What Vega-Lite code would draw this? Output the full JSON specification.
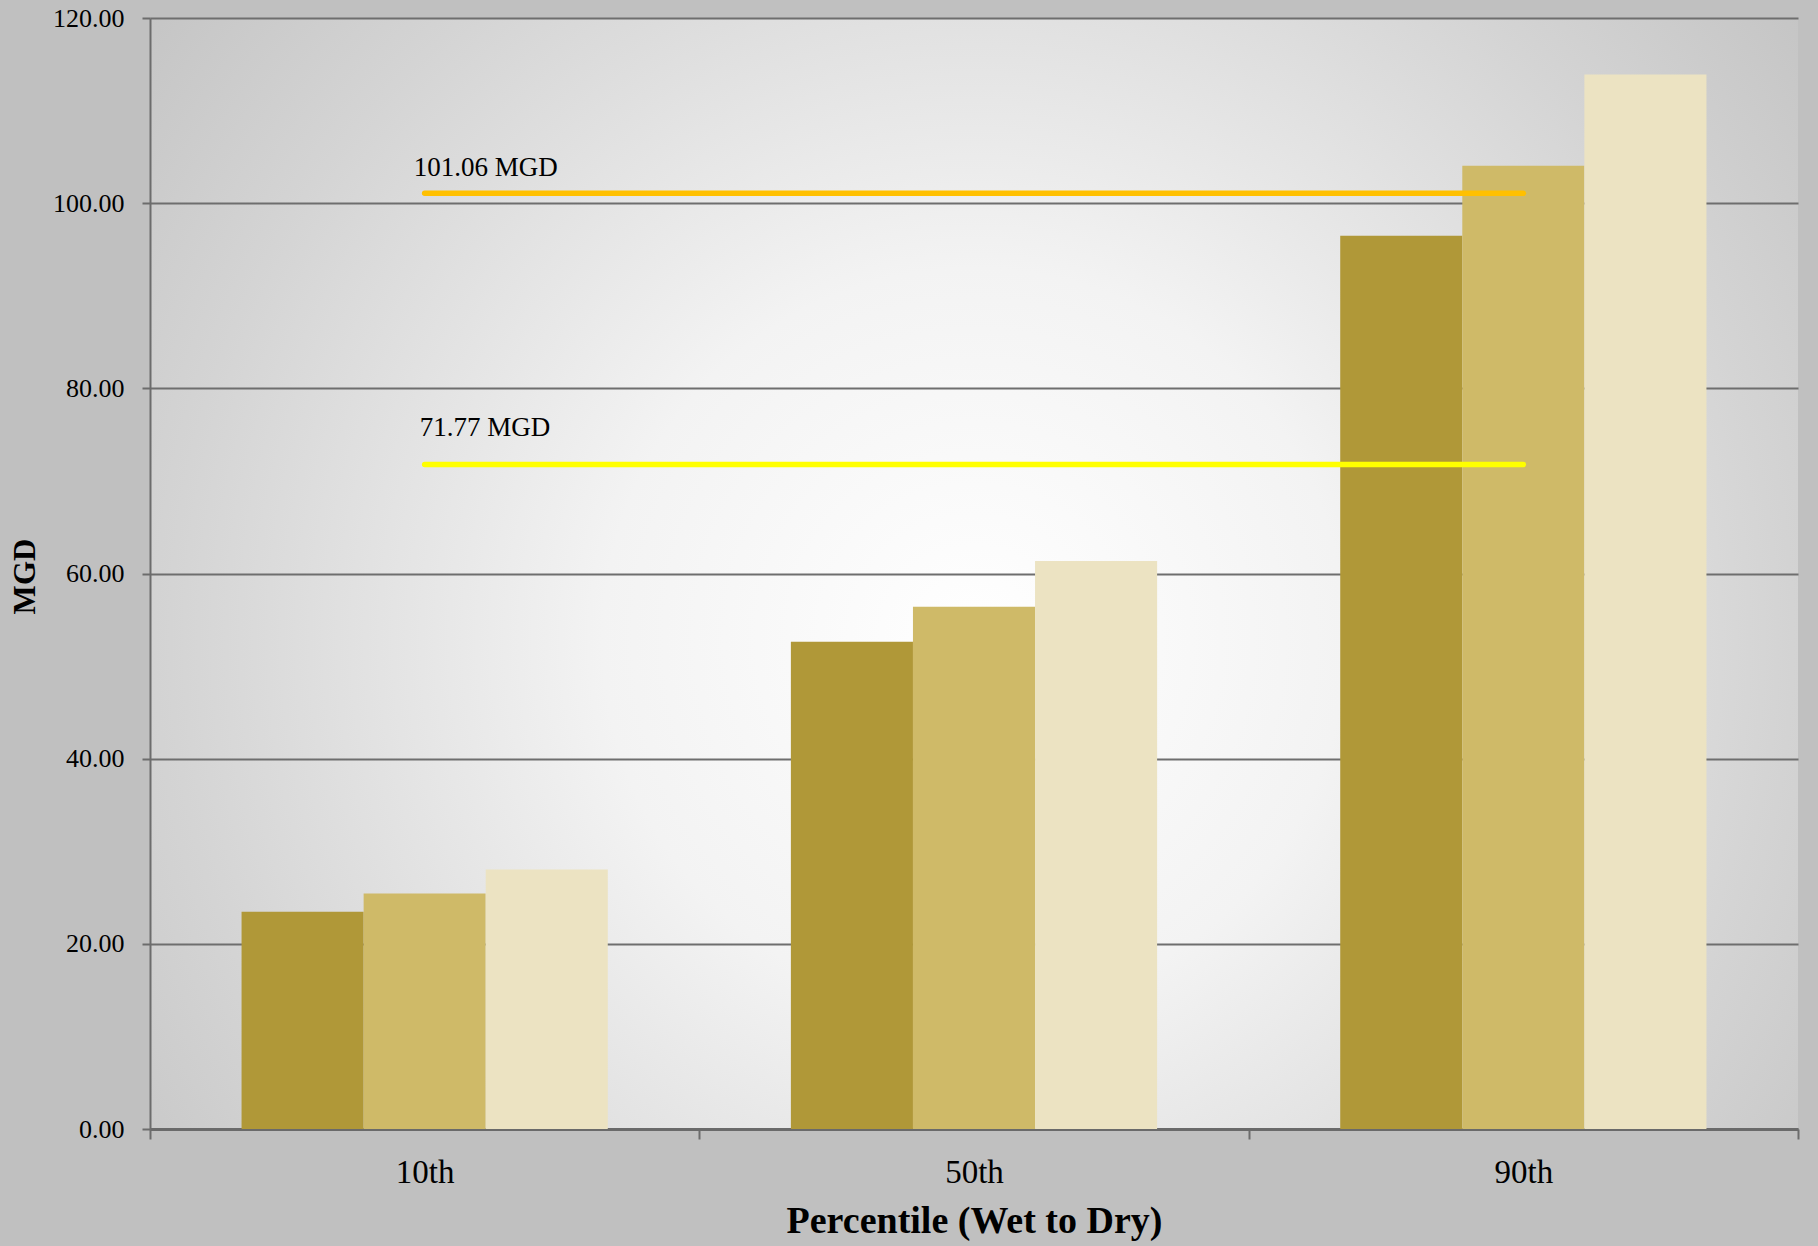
{
  "$schema": "https://vega.github.io/schema/vega-lite/v6.json",
  "width": 1648,
  "height": 1111,
  "autosize": {"type": "none"},
  "padding": {"left": 150, "top": 18, "right": 20, "bottom": 117},
  "background": "#c0c0c0",
  "config": {
    "font": "Liberation Serif",
    "view": {
      "stroke": null,
      "fill": {
        "gradient": "radial",
        "x1": 0.5, "y1": 0.54, "r1": 0,
        "x2": 0.5, "y2": 0.54, "r2": 0.75,
        "stops": [
          {"offset": 0, "color": "#ffffff"},
          {"offset": 0.3, "color": "#f3f3f3"},
          {"offset": 0.65, "color": "#d4d4d4"},
          {"offset": 1, "color": "#b8b8b8"}
        ]
      }
    }
  },
  "datasets": {
    "flows": [
      {"percentile": "10th", "series": "1", "mgd": 23.47},
      {"percentile": "10th", "series": "2", "mgd": 25.43},
      {"percentile": "10th", "series": "3", "mgd": 28.03},
      {"percentile": "50th", "series": "1", "mgd": 52.64},
      {"percentile": "50th", "series": "2", "mgd": 56.42},
      {"percentile": "50th", "series": "3", "mgd": 61.34},
      {"percentile": "90th", "series": "1", "mgd": 96.47},
      {"percentile": "90th", "series": "2", "mgd": 104.03},
      {"percentile": "90th", "series": "3", "mgd": 113.9}
    ],
    "thresholds": [
      {"percentile": "10th", "level": "upper", "mgd": 101.06, "label": "101.06 MGD"},
      {"percentile": "90th", "level": "upper", "mgd": 101.06, "label": "101.06 MGD"},
      {"percentile": "10th", "level": "lower", "mgd": 71.77, "label": "71.77 MGD"},
      {"percentile": "90th", "level": "lower", "mgd": 71.77, "label": "71.77 MGD"}
    ]
  },
  "encoding": {
    "x": {
      "field": "percentile",
      "type": "nominal",
      "sort": ["10th", "50th", "90th"],
      "scale": {"domain": ["10th", "50th", "90th"], "paddingInner": 0, "paddingOuter": 0},
      "axis": {
        "title": "Percentile (Wet to Dry)",
        "titleFont": "Liberation Serif",
        "titleFontSize": 38,
        "titleFontWeight": "bold",
        "titleColor": "#000000",
        "titleBaseline": "alphabetic",
        "titleY": 103,
        "labelFont": "Liberation Serif",
        "labelFontSize": 33,
        "labelColor": "#000000",
        "labelAngle": 0,
        "labelBaseline": "alphabetic",
        "labelPadding": 43,
        "tickBand": "extent",
        "tickSize": 10,
        "tickColor": "#6c6c6c",
        "tickWidth": 2,
        "domainColor": "#6a6a6a",
        "domainWidth": 3,
        "grid": false
      }
    },
    "y": {
      "field": "mgd",
      "type": "quantitative",
      "scale": {"domain": [0, 120], "nice": false},
      "axis": {
        "title": "MGD",
        "titleFont": "Liberation Serif",
        "titleFontSize": 31,
        "titleFontWeight": "bold",
        "titleColor": "#000000",
        "titleBaseline": "alphabetic",
        "titleX": -116,
        "titleY": 558,
        "values": [0, 20, 40, 60, 80, 100, 120],
        "format": ".2f",
        "labelFont": "Liberation Serif",
        "labelFontSize": 26,
        "labelColor": "#000000",
        "labelPadding": 18,
        "tickSize": 8,
        "tickColor": "#6c6c6c",
        "tickWidth": 2,
        "domainColor": "#6c6c6c",
        "domainWidth": 2,
        "grid": true,
        "gridColor": "#6e6e6e",
        "gridWidth": 2
      }
    }
  },
  "layer": [
    {
      "data": {"name": "flows"},
      "mark": {"type": "bar"},
      "encoding": {
        "xOffset": {
          "field": "series",
          "type": "nominal",
          "scale": {"domain": ["1", "2", "3"], "paddingInner": 0, "paddingOuter": 0.75}
        },
        "fill": {
          "field": "series",
          "type": "nominal",
          "scale": {"domain": ["1", "2", "3"], "range": ["#b09838", "#cfba68", "#ece3c2"]},
          "legend": null
        }
      }
    },
    {
      "data": {"name": "thresholds"},
      "mark": {"type": "line", "strokeWidth": 5.5, "strokeCap": "round"},
      "encoding": {
        "detail": {"field": "level"},
        "stroke": {
          "field": "level",
          "type": "nominal",
          "scale": {"domain": ["upper", "lower"], "range": ["#ffc000", "#ffff00"]},
          "legend": null
        }
      }
    },
    {
      "data": {"name": "thresholds"},
      "transform": [{"filter": "datum.percentile === '10th' && datum.level === 'upper'"}],
      "mark": {"type": "text", "align": "left", "baseline": "alphabetic", "dx": -11, "dy": -17, "fontSize": 27, "font": "Liberation Serif", "color": "#000000"},
      "encoding": {"text": {"field": "label"}}
    },
    {
      "data": {"name": "thresholds"},
      "transform": [{"filter": "datum.percentile === '10th' && datum.level === 'lower'"}],
      "mark": {"type": "text", "align": "left", "baseline": "alphabetic", "dx": -5, "dy": -29, "fontSize": 27, "font": "Liberation Serif", "color": "#000000"},
      "encoding": {"text": {"field": "label"}}
    }
  ]
}
